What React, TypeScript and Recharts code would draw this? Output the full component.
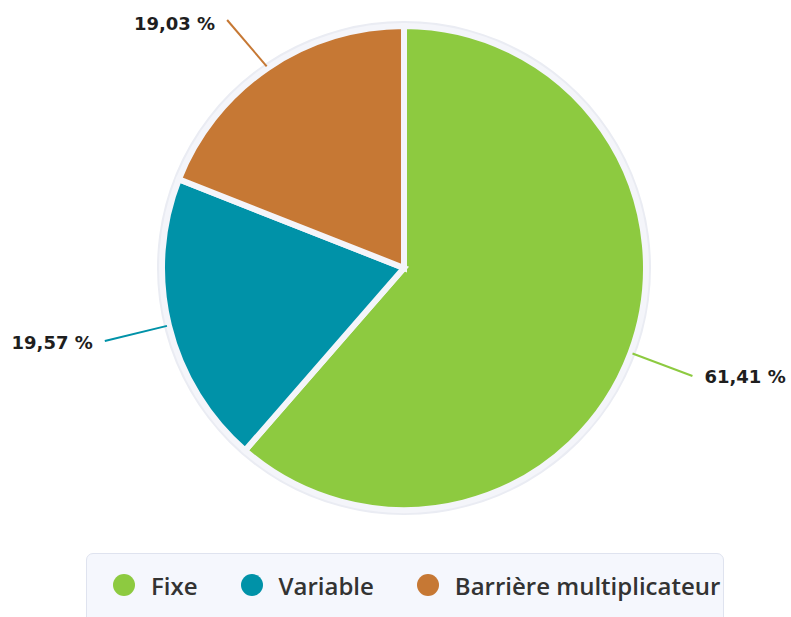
import React from "react";
import { Cell, Legend, Pie, PieChart } from "recharts";

const categories = ["Fixe", "Variable", "Barrière multiplicateur"];
const shares = [61.41, 19.57, 19.03];
const colors = ["#8dca40", "#0092a8", "#c67834"];

const data = categories.map((name, i) => ({ name, value: shares[i] }));
const ring = [{ name: "ring", value: 1 }];

const RAD = Math.PI / 180;

function fmt(v: number) {
  return v.toFixed(2).replace(".", ",") + " %";
}

// connector + value, pushed down a bit when it would leave the top edge
function renderLabel(props: any) {
  const { cx, cy, midAngle, outerRadius, index, value } = props;
  const cos = Math.cos(-midAngle * RAD);
  const sin = Math.sin(-midAngle * RAD);
  const r0 = outerRadius + 2;
  const r1 = outerRadius + 66;
  const x0 = cx + r0 * cos;
  const y0 = cy + r0 * sin;
  let x1 = cx + r1 * cos;
  let y1 = cy + r1 * sin;
  let ty = y1 + 1;
  if (y1 < 20) {
    y1 = 20;
    x1 = x0 + ((y1 - y0) / sin) * cos - 8;
    ty = 23;
  }
  const right = cos >= 0;
  const tx = x1 + (right ? 12 : -12);
  return (
    <g>
      <line x1={x0} y1={y0} x2={x1} y2={y1} stroke={colors[index]} strokeWidth={2} />
      <text
        x={tx}
        y={ty}
        textAnchor={right ? "start" : "end"}
        dominantBaseline="central"
        fill="#1e1e1e"
        fontFamily="DejaVu Sans"
        fontWeight="bold"
        fontSize={18}
      >
        {fmt(value)}
      </text>
    </g>
  );
}

function LegendBox() {
  return (
    <div
      style={{
        width: 638,
        height: 78,
        background: "#f5f7fd",
        border: "1px solid #dfe3ef",
        borderRadius: 7,
        boxSizing: "border-box",
        display: "flex",
        alignItems: "center",
        paddingLeft: 26,
        paddingBottom: 14,
        fontFamily: "'Open Sans', sans-serif",
        fontWeight: 600,
        fontSize: 24,
        whiteSpace: "nowrap",
        color: "#333",
      }}
    >
      {categories.map((c, i) => (
        <div
          key={c}
          style={{ display: "flex", alignItems: "center", flexShrink: 0, marginRight: i < categories.length - 1 ? 43 : 0 }}
        >
          <span
            style={{
              width: 22,
              height: 22,
              borderRadius: "50%",
              background: colors[i],
              display: "inline-block",
              marginRight: 16,
            }}
          />
          <span>{c}</span>
        </div>
      ))}
    </div>
  );
}

export default function App() {
  return (
    <div style={{ position: "absolute", left: 0, top: 0, width: 791, height: 617, overflow: "hidden", background: "#fff" }}>
      <PieChart width={791} height={617} margin={{ top: 0, right: 0, bottom: 0, left: 0 }}>
        <Pie
          data={ring}
          dataKey="value"
          cx={404}
          cy={268}
          outerRadius={247}
          startAngle={90}
          endAngle={-270}
          fill="#eaecf3"
          stroke="none"
          isAnimationActive={false}
          legendType="none"
        />
        <Pie
          data={data}
          dataKey="value"
          nameKey="name"
          cx={404}
          cy={268}
          outerRadius={242}
          startAngle={90}
          endAngle={-270}
          stroke="#f4f5fa"
          strokeWidth={6}
          label={renderLabel}
          labelLine={false}
          isAnimationActive={false}
        >
          {data.map((_, i) => (
            <Cell key={i} fill={colors[i]} />
          ))}
        </Pie>
        <Legend
          content={() => <LegendBox />}
          wrapperStyle={{ position: "absolute", left: 86, top: 553, width: 638 }}
        />
      </PieChart>
    </div>
  );
}
